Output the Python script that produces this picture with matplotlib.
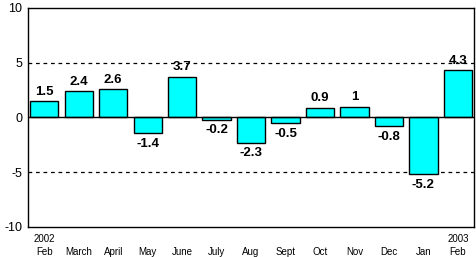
import matplotlib
matplotlib.use('Agg')
import matplotlib.pyplot as plt

months = ['2002\nFeb', 'March', 'April', 'May', 'June', 'July', 'Aug', 'Sept',
          'Oct', 'Nov', 'Dec', 'Jan', '2003\nFeb']
values = [1.5, 2.4, 2.6, -1.4, 3.7, -0.2, -2.3, -0.5, 0.9, 1, -0.8, -5.2, 4.3]
labels = ['1.5', '2.4', '2.6', '-1.4', '3.7', '-0.2', '-2.3', '-0.5', '0.9', '1',
          '-0.8', '-5.2', '4.3']
yticks = [-10, -5, 0, 5, 10]

plt.rcParams['font.family'] = ['Liberation Sans', 'DejaVu Sans']

fig = plt.figure(figsize=(4.76, 2.57), dpi=100)
ax = fig.add_axes([0.059, 0.117, 0.937, 0.852])

x = list(range(len(values)))
ax.bar(x, values, width=0.82, color='#00ffff', edgecolor='black', linewidth=1, zorder=3)

ax.axhline(0, color='black', linewidth=1, zorder=4)
for g in (5, -5):
    ax.axhline(g, color='black', linewidth=0.9, linestyle=(0, (3, 3)), zorder=2)

for xi, v, lab in zip(x, values, labels):
    if v >= 0:
        ax.annotate(lab, (xi, v), xytext=(0, 2.5), textcoords='offset points',
                    ha='center', va='bottom', fontsize=9.5, fontweight='bold', zorder=5)
    else:
        ax.annotate(lab, (xi, v), xytext=(0, -3.5), textcoords='offset points',
                    ha='center', va='top', fontsize=9.5, fontweight='bold', zorder=5)

ax.set_xlim(-0.47, 12.47)
ax.set_ylim(-10, 10)
ax.set_yticks(yticks)
ax.set_yticklabels([str(t) for t in yticks], fontsize=9)
ax.set_xticks(x)
# one-line labels get an empty first line so they sit on the "Feb" row
ax.set_xticklabels([m if '\n' in m else '\n' + m for m in months],
                   fontsize=7, linespacing=1.4)
ax.tick_params(length=0, pad=4)
ax.tick_params(axis='x', pad=5)
for s in ax.spines.values():
    s.set_linewidth(1)

fig.savefig('out.png', dpi=100)
